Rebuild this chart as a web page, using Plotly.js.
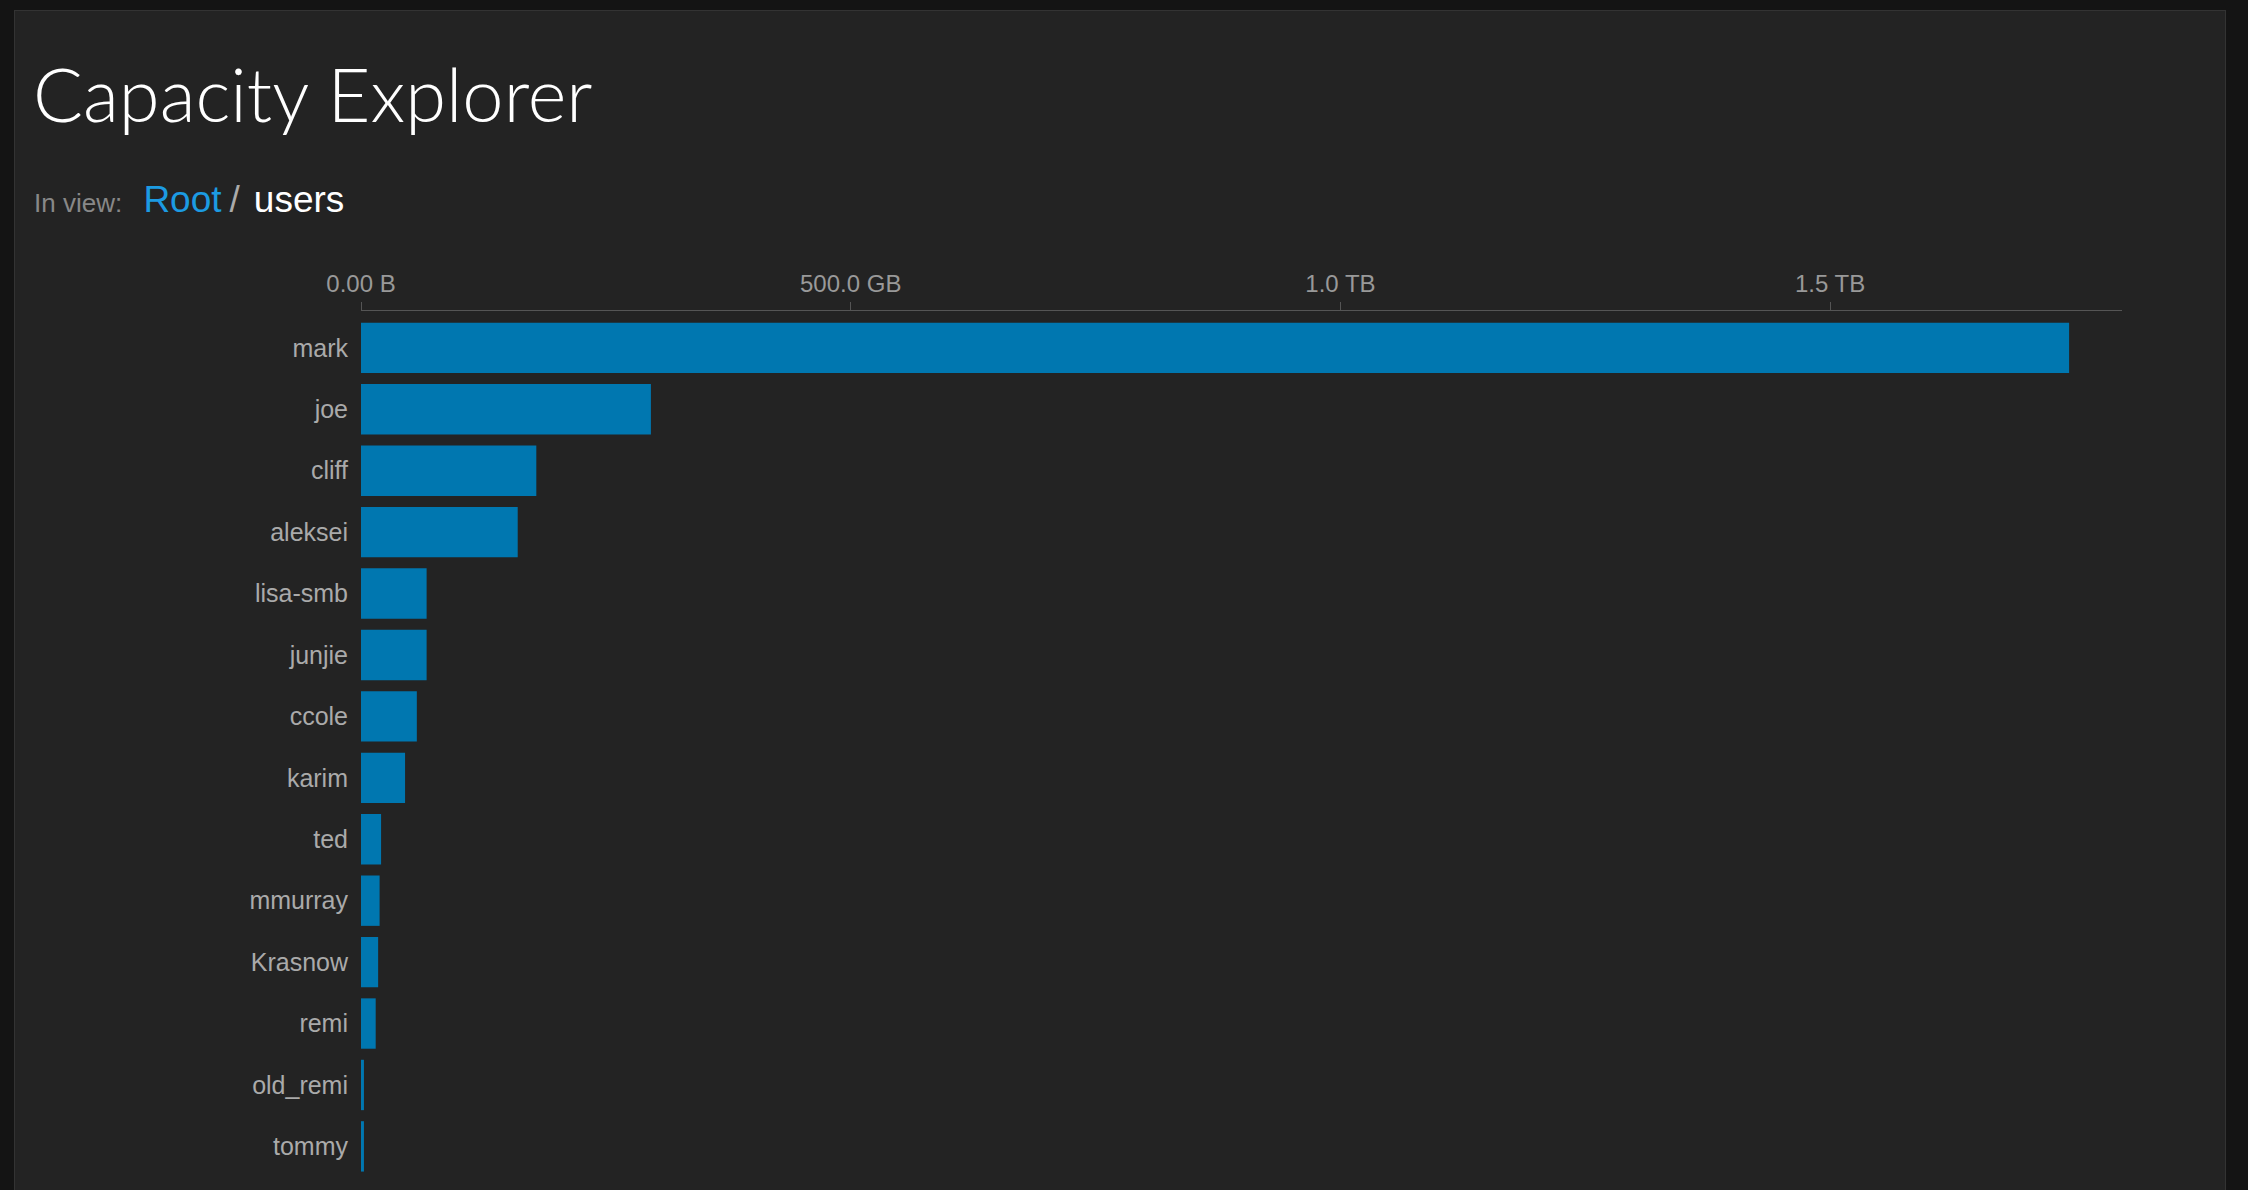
<!DOCTYPE html>
<html>
<head>
<meta charset="utf-8">
<script src="https://cdn.plot.ly/plotly-3.0.1.min.js"></script>
<style>
  body { margin:0; background:#141414; overflow:hidden; font-family:"Liberation Sans", Arial, sans-serif; }
  #panel { position:absolute; left:14px; top:10px; width:2210px; height:1200px; background:#232323; border:1px solid #333; }
  #title { position:absolute; left:18px; top:38px; color:#fff; font-family:"Lato","Open Sans",sans-serif; font-weight:300; font-size:74px; }
  #crumb { position:absolute; left:19px; top:168px; color:#888; font-size:26px; }
  #crumb .root { color:#1c9be2; font-size:37px; margin-left:14px; }
  #crumb .sep { color:#aaa; font-size:37px; margin:0 14px 0 8px; }
  #crumb .cur { color:#fff; font-size:37px; }
  #chart { position:absolute; left:0; top:0; width:2248px; height:1190px; }
</style>
</head>
<body>
<div id="panel">
  <div id="title">Capacity Explorer</div>
  <div id="crumb">In view: <span class="root">Root</span><span class="sep">/</span><span class="cur">users</span></div>
</div>
<div id="chart"></div>
<script>
var users = ['mark','joe','cliff','aleksei','lisa-smb','junjie','ccole','karim','ted','mmurray','Krasnow','remi','old_remi','tommy'];
// sizes in GB
var sizes = [1744, 296, 179, 160, 67, 67, 57, 45, 20.5, 19, 17.5, 15, 3, 3];
var tickVals = [0, 500, 1000, 1500];
var tickText = ['0.00 B', '500.0 GB', '1.0 TB', '1.5 TB'];

var data = [{
  type: 'bar', orientation: 'h', x: sizes, y: users,
  marker: { color: '#0077b0' }, hoverinfo: 'x+y'
}];

var layout = {
  paper_bgcolor: 'rgba(0,0,0,0)', plot_bgcolor: 'rgba(0,0,0,0)',
  margin: { l: 361, r: 126, t: 311, b: 0 },
  bargap: 0.18,
  showlegend: false,
  font: { family: '"Liberation Sans", Arial, sans-serif', color: '#aaa' },
  xaxis: {
    side: 'top', range: [0, 1798], tickvals: tickVals, ticktext: tickText,
    tickfont: { size: 24, color: '#999' }, showgrid: false, zeroline: false,
    showline: true, linecolor: '#555', linewidth: 1, ticks: 'outside', ticklen: 8, tickcolor: '#555'
  },
  yaxis: {
    type: 'category', range: [13.71, -0.6], tickfont: { size: 25, color: '#aaa' },
    showgrid: false, zeroline: false, showline: false, ticks: '', ticklabelstandoff: 12
  }
};

Plotly.newPlot('chart', data, layout, { displayModeBar: false });
</script>
</body>
</html>
